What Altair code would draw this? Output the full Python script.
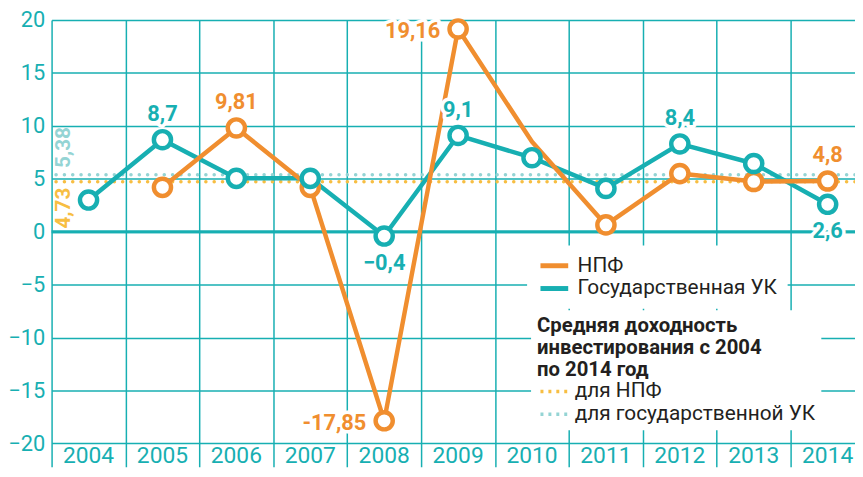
import altair as alt
import pandas as pd

TEAL = "#17afb2"
ORANGE = "#f08e2f"
DARK = "#231f20"
FONT = "Roboto"

years = list(range(2004, 2015))
npf = [None, 4.2, 9.81, 4.2, -17.85, 19.16, 8.5, 0.65, 5.5, 4.75, 4.8]
guk = [3.0, 8.7, 5.05, 5.05, -0.4, 9.1, 7.0, 4.1, 8.3, 6.45, 2.6]
series_names = ["НПФ", "Государственная УК"]
series_colors = [ORANGE, TEAL]
npf_no_marker = [2010]

avg_names = ["для НПФ", "для государственной УК"]
avg_values = [4.73, 5.38]
avg_texts = ["4,73", "5,38"]
avg_colors = ["#f7be42", "#94d4d4"]
avg_title = ["Средняя доходность", "инвестирования с 2004", "по 2014 год"]

label_series = ["Государственная УК", "НПФ", "НПФ", "Государственная УК", "НПФ",
                "Государственная УК", "Государственная УК", "НПФ", "Государственная УК"]
label_years = [2005, 2006, 2008, 2008, 2009, 2009, 2012, 2014, 2014]
label_texts = ["8,7", "9,81", "-17,85", "−0,4", "19,16", "9,1", "8,4", "4,8", "2,6"]
label_pos = ["above", "above", "left", "below", "left", "above", "above", "above", "below"]

y_ticks = [-20, -15, -10, -5, 0, 5, 10, 15, 20]
col_edges = [2003.5 + i for i in range(11)]
zero_line = [0]

# ---- tables
rows = []
for y, v in zip(years, npf):
    if v is not None:
        rows.append({"year": y, "series": "НПФ", "value": v, "marker": y not in npf_no_marker})
for y, v in zip(years, guk):
    rows.append({"year": y, "series": "Государственная УК", "value": v, "marker": True})
series_df = pd.DataFrame(rows)

lookup = {(r["series"], r["year"]): r["value"] for r in rows}
labels_df = pd.DataFrame({
    "series": label_series,
    "year": label_years,
    "text": label_texts,
    "pos": label_pos,
    "value": [lookup[(s, y)] for s, y in zip(label_series, label_years)],
})
avg_df = pd.DataFrame({"name": avg_names, "value": avg_values, "text": avg_texts})
years_df = pd.DataFrame({"year": years, "text": [str(y) for y in years]})
zero_df = pd.DataFrame({"value": zero_line})

# ---- encodings
x_scale = alt.Scale(domain=[2003.5, 2014.37], nice=False, zero=False)
y_scale = alt.Scale(domain=[-22.2, 20], nice=False, zero=False)
x_axis = alt.Axis(values=col_edges, grid=True, labels=False, ticks=False, domain=False,
                  title=None, gridColor=TEAL, gridWidth=1.5, gridOpacity=1)
y_axis = alt.Axis(values=y_ticks, grid=True, ticks=False, domain=False, title=None,
                  gridColor=TEAL, gridWidth=1.5, gridOpacity=1,
                  labelFont=FONT, labelFontSize=22, labelColor=TEAL, labelPadding=7,
                  labelFlush=False, labelOverlap=False)
X = alt.X("year:Q", scale=x_scale, axis=x_axis)
Y = alt.Y("value:Q", scale=y_scale, axis=y_axis)

legend1 = alt.Legend(orient="none", legendX=480, legendY=227.5, title=None,
                     symbolType="M-1,0H3", symbolSize=196, symbolStrokeWidth=5,
                     labelFont=FONT, labelFontSize=21, labelColor=DARK, labelOffset=20,
                     labelLimit=0, rowPadding=1, fillColor="white", padding=10)
legend2 = alt.Legend(orient="none", legendX=484, legendY=293, title=avg_title,
                     titleFont=FONT, titleFontSize=20.5, titleFontWeight="bold",
                     titleLineHeight=22, titleColor=DARK, titlePadding=1, titleLimit=0,
                     symbolType="M-1,0H3", symbolSize=196, symbolStrokeWidth=3.5,
                     symbolDash=[3, 5],
                     labelFont=FONT, labelFontSize=21, labelColor=DARK, labelOffset=17,
                     labelLimit=0, rowPadding=1, fillColor="white", padding=6)

C = alt.Color("series:N", scale=alt.Scale(domain=series_names, range=series_colors), legend=legend1)
CA = alt.Color("name:N", scale=alt.Scale(domain=avg_names, range=avg_colors), legend=legend2)

# ---- average layer
avg_rules = alt.Chart(avg_df).mark_rule(strokeWidth=3.5, strokeDash=[0.1, 8.3], strokeCap="round").encode(
    y=Y, color=CA)
avg_lab_low = alt.Chart(avg_df).transform_filter(alt.datum.name == avg_names[0]).mark_text(
    angle=270, align="right", baseline="alphabetic", dx=-6, font=FONT, fontSize=21, fontWeight="bold"
).encode(x=alt.value(19), y=Y, text="text:N", color=CA)
avg_lab_high = alt.Chart(avg_df).transform_filter(alt.datum.name == avg_names[1]).mark_text(
    angle=270, align="left", baseline="alphabetic", dx=7, font=FONT, fontSize=21, fontWeight="bold"
).encode(x=alt.value(19), y=Y, text="text:N", color=CA)
avg_layer = alt.layer(avg_rules, avg_lab_low, avg_lab_high)

# ---- series layer
zero_rule = alt.Chart(zero_df).mark_rule(color=TEAL, strokeWidth=3).encode(y=Y)
year_labels = alt.Chart(years_df).mark_text(
    font=FONT, fontSize=23, color=TEAL, baseline="middle", align="center"
).encode(x=X, y=alt.datum(-21.15), text="text:N")

base = alt.Chart(series_df)
line_guk = base.transform_filter(alt.datum.series == series_names[1]).mark_line(
    strokeWidth=4.5, strokeJoin="round", strokeCap="round").encode(x=X, y=Y, color=C)
line_npf = base.transform_filter(alt.datum.series == series_names[0]).mark_line(
    strokeWidth=4.5, strokeJoin="round", strokeCap="round").encode(x=X, y=Y, color=C)
pts_npf = base.transform_filter((alt.datum.series == series_names[0]) & alt.datum.marker).mark_point(
    shape="circle", filled=False, fill="white", size=300, strokeWidth=4.5, opacity=1
).encode(x=X, y=Y, color=C)
pts_guk = base.transform_filter(alt.datum.series == series_names[1]).mark_point(
    shape="circle", filled=False, fill="white", size=300, strokeWidth=4.5, opacity=1
).encode(x=X, y=Y, color=C)

pos_style = {
    "above": dict(align="center", dx=0, dy=-26),
    "below": dict(align="center", dx=0, dy=27),
    "left": dict(align="right", dx=-18, dy=2),
}
lab_layers = []
for pos, st in pos_style.items():
    src = alt.Chart(labels_df).transform_filter(alt.datum.pos == pos)
    halo = src.mark_text(font=FONT, fontSize=22, fontWeight="bold", baseline="middle",
                         stroke="white", strokeWidth=7, strokeJoin="round", **st).encode(
        x=X, y=Y, text="text:N", color=alt.value("white"))
    txt = src.mark_text(font=FONT, fontSize=22, fontWeight="bold", baseline="middle", **st).encode(
        x=X, y=Y, text="text:N", color=C)
    lab_layers += [halo, txt]

series_layer = alt.layer(zero_rule, year_labels, line_guk, line_npf, pts_npf, pts_guk, *lab_layers)

chart = alt.layer(avg_layer, series_layer).resolve_scale(color="independent").properties(
    width=811, height=451,
    autosize=alt.AutoSizeParams(type="none"),
    padding={"left": 44, "top": 10, "right": 0, "bottom": 0},
    background="white",
).configure_view(stroke=None)

chart.save("out.html", embed_options={"renderer": "svg", "actions": False})
